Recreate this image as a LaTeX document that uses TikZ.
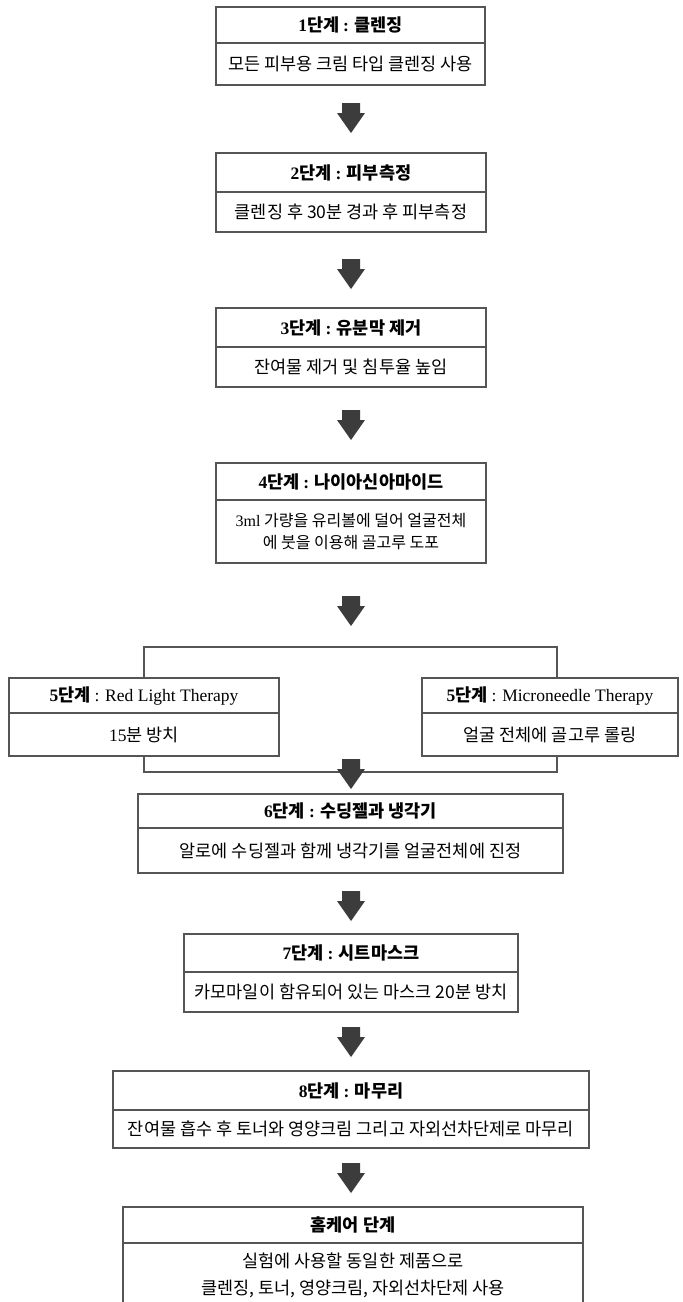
\documentclass[tikz,border=0pt]{standalone}
\usepackage{fontspec}
\setmainfont{Noto Sans CJK KR}
\newfontfamily\lat{Liberation Serif}
\definecolor{lc}{HTML}{555555}
\definecolor{ac}{HTML}{3C3C3C}
\tikzset{
  box/.style={draw=lc, line width=1.1pt, inner sep=0pt, outer sep=0pt, anchor=north, fill=white, align=center},
  hd/.style={box, font=\bfseries\fontsize{17.5}{21}\selectfont},
  bd/.style={box, font=\fontsize{17.5}{21}\selectfont},
  bracket/.style={draw=lc, line width=1.1pt},
  barrow/.style={fill=ac}
}
\newcommand\blockarrow[1]{\fill[barrow] (#1) ++(-9,0) -- ++(18,0) -- ++(0,10) -- ++(5,0) -- ++(-14,20) -- ++(-14,-20) -- ++(5,0) -- cycle;}
\begin{document}
\begin{tikzpicture}[x=1pt,y=-1pt]
\useasboundingbox (0,0) rectangle (683,1302);
\clip (0,0) rectangle (683,1302);
\fill[white] (0,0) rectangle (683,1302);

% brackets around step 5
\coordinate (kl) at (144,0);
\coordinate (kr) at (557,0);
\coordinate (bt) at (350,647);
\coordinate (bb) at (350,772);

% step 1
\node[hd, minimum width=269pt, minimum height=36pt] (t1) at (350.5,7) {{\lat 1}단계 {\lat :} 클렌징};
\node[bd, minimum width=269pt, minimum height=42pt] (b1) at (t1.south) {모든 피부용 크림 타입 클렌징 사용};
% step 2
\node[hd, minimum width=270pt, minimum height=39pt] (t2) at (351,153) {{\lat 2}단계 {\lat :} 피부측정};
\node[bd, minimum width=270pt, minimum height=40pt] (b2) at (t2.south) {클렌징 후 30분 경과 후 피부측정};
% step 3
\node[hd, minimum width=270pt, minimum height=39pt] (t3) at (351,308) {{\lat 3}단계 {\lat :} 유분막 제거};
\node[bd, minimum width=270pt, minimum height=40pt] (b3) at (t3.south) {잔여물 제거 및 침투율 높임};
% step 4
\node[hd, minimum width=270pt, minimum height=37pt] (t4) at (351,463) {{\lat 4}단계 {\lat :} 나이아신아마이드};
\node[bd, minimum width=270pt, minimum height=63pt, font=\fontsize{16}{21}\selectfont] (b4) at (t4.south) {{\lat 3ml} 가량을 유리볼에 덜어 얼굴전체\\[1pt]에 붓을 이용해 골고루 도포};

% bracket lines (drawn before step-5 boxes)
\draw[bracket] (kl |- 0,678) |- (bt) -| (kr |- 0,678);
\draw[bracket] (kl |- 0,756) |- (bb) -| (kr |- 0,756);

% step 5 left
\node[hd, minimum width=270pt, minimum height=35pt] (t5l) at (144,678) {{\lat 5}단계 {\lat\mdseries : Red Light Therapy}};
\node[bd, minimum width=270pt, minimum height=43pt] (b5l) at (t5l.south) {{\lat 15}분 방치};
% step 5 right
\node[hd, minimum width=256pt, minimum height=35pt] (t5r) at (550,678) {{\lat 5}단계 {\lat\mdseries : Microneedle Therapy}};
\node[bd, minimum width=256pt, minimum height=43pt] (b5r) at (t5r.south) {얼굴 전체에 골고루 롤링};

% step 6
\node[hd, minimum width=425pt, minimum height=34pt] (t6) at (350.5,794) {{\lat 6}단계 {\lat :} 수딩젤과 냉각기};
\node[bd, minimum width=425pt, minimum height=45pt] (b6) at (t6.south) {알로에 수딩젤과 함께 냉각기를 얼굴전체에 진정};
% step 7
\node[hd, minimum width=334pt, minimum height=38pt] (t7) at (351,934) {{\lat 7}단계 {\lat :} 시트마스크};
\node[bd, minimum width=334pt, minimum height=40pt] (b7) at (t7.south) {카모마일이 함유되어 있는 마스크 20분 방치};
% step 8
\node[hd, minimum width=476pt, minimum height=39pt] (t8) at (351,1071) {{\lat 8}단계 {\lat :} 마무리};
\node[bd, minimum width=476pt, minimum height=38pt] (b8) at (t8.south) {잔여물 흡수 후 토너와 영양크림 그리고 자외선차단제로 마무리};
% home care
\node[hd, minimum width=460pt, minimum height=36pt] (t9) at (353,1207) {홈케어 단계};
\node[bd, minimum width=460pt, minimum height=65pt] (b9) at (t9.south) {실험에 사용할 동일한 제품으로\\[6pt]클렌징, 토너, 영양크림, 자외선차단제 사용};

% block arrows (top of shaft)
\coordinate (a1) at (351,103);
\coordinate (a2) at (351,259);
\coordinate (a3) at (351,410);
\coordinate (a4) at (351,596);
\coordinate (a5) at (351,759);
\coordinate (a6) at (351,891);
\coordinate (a7) at (351,1027);
\coordinate (a8) at (351,1163);
\blockarrow{a1}\blockarrow{a2}\blockarrow{a3}\blockarrow{a4}
\blockarrow{a5}\blockarrow{a6}\blockarrow{a7}\blockarrow{a8}
\end{tikzpicture}
\end{document}
